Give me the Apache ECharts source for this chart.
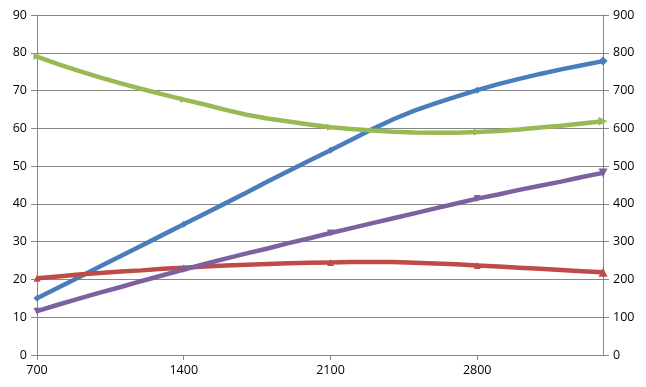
<!DOCTYPE html>
<html>
<head>
<meta charset="utf-8">
<script src="https://cdn.jsdelivr.net/npm/echarts@6/dist/echarts.min.js"></script>
<style>html,body{margin:0;padding:0;background:#fff}#c{width:646px;height:387px}</style>
</head>
<body>
<div id="c"></div>
<script>
const xs = [700,800,900,1000,1100,1200,1300,1400,1500,1600,1700,1800,1900,2000,2100,2200,2300,2400,2500,2600,2700,2800,2900,3000,3100,3200,3300,3400];
const blue = [15.0,17.8,20.6,23.4,26.2,29.0,31.8,34.6,37.4,40.2,43.0,45.9,48.7,51.5,54.2,57.0,59.8,62.4,64.7,66.6,68.4,70.1,71.7,73.1,74.4,75.6,76.7,77.8];
const red = [20.3,20.8,21.3,21.7,22.1,22.4,22.8,23.1,23.4,23.7,23.9,24.1,24.3,24.4,24.5,24.6,24.6,24.6,24.4,24.2,24.0,23.7,23.4,23.1,22.8,22.5,22.2,21.9];
const green = [79.0,77.0,75.2,73.5,71.9,70.4,69.0,67.6,66.3,64.9,63.6,62.6,61.8,61.0,60.3,59.8,59.4,59.1,58.9,58.8,58.8,59.0,59.3,59.7,60.2,60.7,61.3,61.9];
const purple = [11.6,13.3,14.9,16.5,18.0,19.6,21.1,22.6,24.1,25.5,26.9,28.2,29.6,30.9,32.3,33.6,34.9,36.2,37.5,38.8,40.1,41.4,42.5,43.7,44.8,45.9,47.1,48.2];
const markerXs = [700,1400,2100,2800,3400];

const chart = echarts.init(document.getElementById('c'), null, {renderer:'canvas'});
function mk(name, vals, color, symbol, rot) {
  return {
    name, type:'line', yAxisIndex:0,
    data: xs.map((x,i)=>[x, vals[i]]),
    smooth: false,
    showSymbol: true,
    symbol: symbol,
    symbolRotate: rot,
    symbolSize: (v, p) => {
      const x = xs[p.dataIndex];
      if (x === 3400) return 9;
      return markerXs.indexOf(x) >= 0 ? 7 : 0;
    },
    itemStyle: {color: color},
    lineStyle: {color: color, width: 4.5},
    emphasis: {disabled: true},
    animation: false,
    z: 3
  };
}
const axisTxt = {color:'#000', fontFamily:'Open Sans, Liberation Sans, sans-serif', fontSize:12.5};
chart.setOption({
  backgroundColor:'#fff',
  animation:false,
  grid:{left:37, right:43, top:15, bottom:32, containLabel:false},
  xAxis:{
    type:'value', min:700, max:3400, interval:700,
    axisLine:{show:true, lineStyle:{color:'#868686'}},
    axisTick:{show:true, length:5, lineStyle:{color:'#868686'}},
    splitLine:{show:false},
    axisLabel:Object.assign({showMaxLabel:false, margin:9, formatter:(v)=>String(v)}, axisTxt)
  },
  yAxis:[
    {type:'value', min:0, max:90, interval:10, position:'left',
     axisLine:{show:true, lineStyle:{color:'#868686'}},
     axisTick:{show:true, length:6, lineStyle:{color:'#868686'}},
     splitLine:{show:true, lineStyle:{color:'#868686', width:1}},
     axisLabel:Object.assign({margin:10}, axisTxt)},
    {type:'value', min:0, max:900, interval:100, position:'right',
     axisLine:{show:true, lineStyle:{color:'#868686'}},
     axisTick:{show:true, length:6, lineStyle:{color:'#868686'}},
     splitLine:{show:false},
     axisLabel:Object.assign({margin:10}, axisTxt)}
  ],
  series:[
    mk('Series1', blue, '#4A7EBB', 'diamond', 0),
    mk('Series2', red, '#BE4B48', 'triangle', 0),
    mk('Series3', green, '#98B954', 'triangle', -90),
    mk('Series4', purple, '#7D60A0', 'triangle', 180)
  ]
});
</script>
</body>
</html>
